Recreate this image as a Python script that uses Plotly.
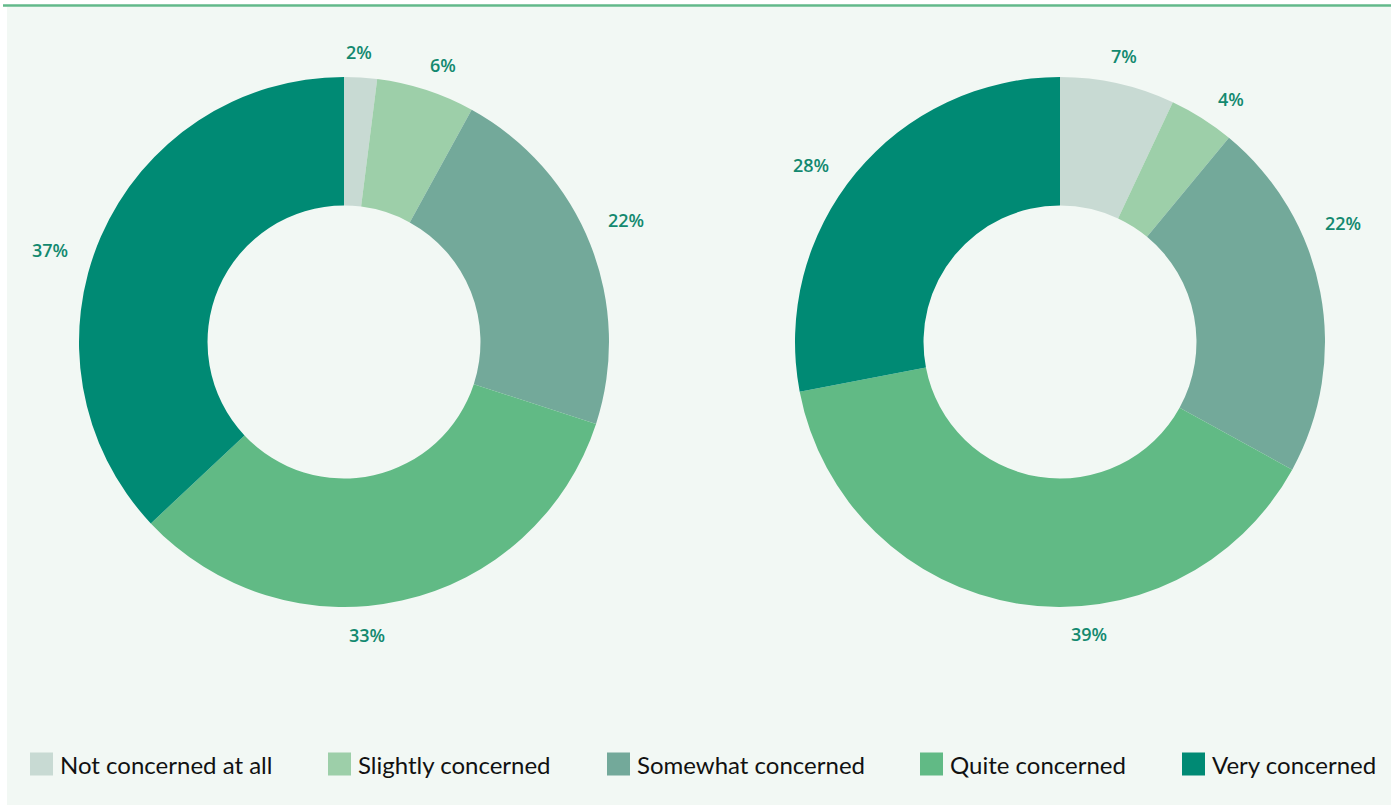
import math
import plotly.graph_objects as go

W, H = 1391, 805

# Survey categories and shares (%) for the two groups
categories = ["Not concerned at all", "Slightly concerned", "Somewhat concerned",
              "Quite concerned", "Very concerned"]
left_values = [2, 6, 22, 33, 37]
right_values = [7, 4, 22, 39, 28]

colors = ["#C8DAD3", "#9DCFA9", "#73A99A", "#61BA85", "#008A74"]
label_color = "#13896F"
bg_color = "#F2F8F4"

# donut geometry in pixels
CY = 342
R_OUT = 265
HOLE = 0.515
LABEL_R = 291
centers_x = [344, 1060]

# small angular shifts (degrees) applied to each percentage label so it
# sits clear of its neighbours
label_nudge_left = [-0.6, 1.6, -1.9, 8.1, -5.9]
label_nudge_right = [0.0, 2.6, -12.1, -14.6, -4.0]


def px_x(x):
    return x / W


def px_y(y):
    return 1 - y / H


fig = go.Figure()
annotations = []

for cx, vals, nudges in zip(centers_x, [left_values, right_values],
                            [label_nudge_left, label_nudge_right]):
    fig.add_trace(go.Pie(
        labels=categories,
        values=vals,
        hole=HOLE,
        sort=False,
        direction="clockwise",
        rotation=0,
        marker=dict(colors=colors, line=dict(width=0)),
        textinfo="none",
        hoverinfo="label+percent",
        showlegend=False,
        domain=dict(x=[px_x(cx - R_OUT), px_x(cx + R_OUT)],
                    y=[px_y(CY + R_OUT), px_y(CY - R_OUT)]),
    ))
    # percentage labels placed outside each slice around its mid-angle
    total = sum(vals)
    cum = 0
    for v, nd in zip(vals, nudges):
        mid = (cum + v / 2) / total * 2 * math.pi + math.radians(nd)
        cum += v
        text = f"{v}%"
        r = LABEL_R + 6 * len(text) * abs(math.sin(mid))
        lx = cx + r * math.sin(mid)
        ly = CY - r * math.cos(mid)
        annotations.append(dict(
            x=px_x(lx), y=px_y(ly + 1), xref="paper", yref="paper",
            text=text, showarrow=False,
            font=dict(family="Open Sans", size=18, color=label_color, weight=600),
            xanchor="center", yanchor="middle",
        ))

# legend drawn as swatches with text
legend_x = [30, 328, 607, 920, 1182]
LEG_Y = 764
SW = 23
shapes = [
    dict(type="rect", xref="paper", yref="paper",
         x0=px_x(7), x1=1, y0=0, y1=px_y(7),
         fillcolor=bg_color, line=dict(width=0), layer="below"),
    dict(type="line", xref="paper", yref="paper",
         x0=px_x(3), x1=1, y0=px_y(5.5), y1=px_y(5.5),
         line=dict(color="#62B98A", width=2.5), layer="below"),
]
for x0, cat, col in zip(legend_x, categories, colors):
    shapes.append(dict(type="rect", xref="paper", yref="paper",
                       x0=px_x(x0), x1=px_x(x0 + SW),
                       y0=px_y(LEG_Y + SW / 2), y1=px_y(LEG_Y - SW / 2),
                       fillcolor=col, line=dict(width=0)))
    annotations.append(dict(
        x=px_x(x0 + 28), y=px_y(LEG_Y), xref="paper", yref="paper",
        text=cat, showarrow=False, xanchor="left", yanchor="middle",
        font=dict(family="Lato", size=24, color="#111111"),
    ))

fig.update_layout(
    width=W, height=H,
    margin=dict(l=0, r=0, t=0, b=0),
    paper_bgcolor="#FFFFFF",
    plot_bgcolor="#FFFFFF",
    shapes=shapes,
    annotations=annotations,
)

fig.write_html("out.html")
